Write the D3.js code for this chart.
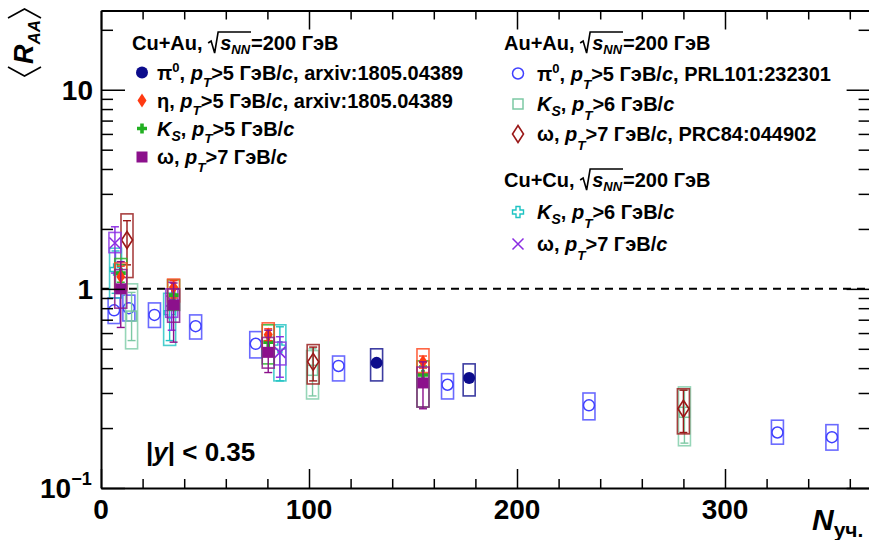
<!DOCTYPE html>
<html>
<head>
<meta charset="utf-8">
<script src="https://cdn.jsdelivr.net/npm/d3@7"></script>
<style>
  body { margin: 0; background: #fff; }
  text { font-family: "Liberation Sans", Arial, sans-serif; font-weight: bold; fill: #000; white-space: pre; }
</style>
</head>
<body>
<svg id="chart" width="869" height="540"></svg>
<script>
// ---------- data: <R_AA> vs number of participants ----------
// Au+Au, pi0 (PRL101:232301)
const auauPi0N     = [6.3, 13.4, 25.7, 45.5, 74.4, 114.2, 166.6, 234.6, 325.2, 351.4];
const auauPi0R     = [0.78, 0.80, 0.74, 0.65, 0.53, 0.41, 0.33, 0.26, 0.19, 0.18];
const auauPi0SysLo = [0.67, 0.69, 0.64, 0.56, 0.45, 0.345, 0.28, 0.22, 0.166, 0.155];
const auauPi0SysHi = [0.90, 0.93, 0.85, 0.74, 0.61, 0.46, 0.375, 0.30, 0.219, 0.208];

// Au+Au, K_S
const auauKsN      = [14.7, 101.7, 280.5];
const auauKsR      = [0.73, 0.39, 0.24];
const auauKsStatLo = [0.55, 0.29, 0.168];
const auauKsStatHi = [0.96, 0.50, 0.31];
const auauKsSysLo  = [0.50, 0.28, 0.163];
const auauKsSysHi  = [1.06, 0.49, 0.322];

// Au+Au, omega (PRC84:044902)
const auauOmN      = [12.5, 102, 280];
const auauOmR      = [1.76, 0.43, 0.25];
const auauOmStatLo = [1.32, 0.345, 0.19];
const auauOmStatHi = [2.2, 0.51, 0.31];
const auauOmSysLo  = [1.14, 0.333, 0.187];
const auauOmSysHi  = [2.38, 0.525, 0.315];

// Cu+Cu, K_S
const cucuKsN      = [7, 33, 86];
const cucuKsR      = [1.25, 0.76, 0.51];
const cucuKsStatLo = [0.95, 0.55, 0.345];
const cucuKsStatHi = [1.55, 0.95, 0.645];
const cucuKsSysLo  = [0.90, 0.52, 0.345];
const cucuKsSysHi  = [1.60, 0.95, 0.66];

// Cu+Cu, omega
const cucuOmN      = [6.7, 34, 86];
const cucuOmR      = [1.70, 0.87, 0.48];
const cucuOmStatLo = [1.2, 0.62, 0.36];
const cucuOmStatHi = [2.05, 1.08, 0.575];
const cucuOmSysLo  = [1.52, 0.72, 0.415];
const cucuOmSysHi  = [1.92, 1.0, 0.54];

// Cu+Au, pi0 (arxiv:1805.04389)
const cuauPi0N     = [132.5, 177];
const cuauPi0R     = [0.425, 0.357];
const cuauPi0SysLo = [0.345, 0.29];
const cuauPi0SysHi = [0.50, 0.42];

// Cu+Au, K_S / eta / omega share centrality classes
const cuauN        = [9.5, 34.9, 80.4, 154.8];
const cuauKsR      = [1.2, 0.93, 0.54, 0.37];
const cuauKsStatLo = [1.08, 0.85, 0.50, 0.33];
const cuauKsStatHi = [1.32, 1.02, 0.58, 0.41];
const cuauKsSysLo  = [1.0, 0.78, 0.42, 0.255];
const cuauKsSysHi  = [1.42, 1.11, 0.66, 0.435];

const cuauEtaR      = [1.15, 1.02, 0.59, 0.43];
const cuauEtaStatLo = [1.0, 0.9, 0.55, 0.40];
const cuauEtaStatHi = [1.3, 1.1, 0.63, 0.46];
const cuauEtaSysLo  = [0.98, 0.86, 0.50, 0.38];
const cuauEtaSysHi  = [1.35, 1.12, 0.675, 0.50];

const cuauOmR      = [1.0, 0.83, 0.48, 0.337];
const cuauOmStatLo = [0.64, 0.54, 0.38, 0.25];
const cuauOmStatHi = [1.37, 1.07, 0.62, 0.43];
const cuauOmSysLo  = [0.80, 0.68, 0.40, 0.255];
const cuauOmSysHi  = [1.25, 1.0, 0.57, 0.405];

// axis ticks and labels
const xMajorTicks = [0, 100, 200, 300];
const xMajorLabels = ["0", "100", "200", "300"];
const xMinorTicks = [20, 40, 60, 80, 120, 140, 160, 180, 220, 240, 260, 280, 320, 340, 360];
const yMajorTicks = [0.1, 1, 10];
const yMinorTicks = [0.2, 0.3, 0.4, 0.5, 0.6, 0.7, 0.8, 0.9, 2, 3, 4, 5, 6, 7, 8, 9, 20];

// ---------- layout ----------
const svg = d3.select("#chart");
const x = d3.scaleLinear().domain([0, 370]).range([101, 870.6]);
const y = d3.scaleLog().domain([0.1, 25]).range([488, 10.5]);

const zip = (N, R, sLo, sHi, eLo, eHi) => N.map((n, i) => ({
  n, r: R[i],
  sysLo: sLo ? sLo[i] : null, sysHi: sHi ? sHi[i] : null,
  statLo: eLo ? eLo[i] : null, statHi: eHi ? eHi[i] : null
}));

const series = [
  { data: zip(auauPi0N, auauPi0R, auauPi0SysLo, auauPi0SysHi), color: "#4040ff", box: "#5050ff", marker: "circleOpen" },
  { data: zip(auauKsN, auauKsR, auauKsSysLo, auauKsSysHi, auauKsStatLo, auauKsStatHi), color: "#7cc9a4", box: "#84cfab", marker: "squareOpen" },
  { data: zip(auauOmN, auauOmR, auauOmSysLo, auauOmSysHi, auauOmStatLo, auauOmStatHi), color: "#9a1818", box: "#9a2020", marker: "diamondOpen" },
  { data: zip(cucuKsN, cucuKsR, cucuKsSysLo, cucuKsSysHi, cucuKsStatLo, cucuKsStatHi), color: "#1fc3c3", box: "#2cc6c6", marker: "crossOpen" },
  { data: zip(cucuOmN, cucuOmR, cucuOmSysLo, cucuOmSysHi, cucuOmStatLo, cucuOmStatHi), color: "#8a2be2", box: "#8f38e6", marker: "xMark" },
  { data: zip(cuauPi0N, cuauPi0R, cuauPi0SysLo, cuauPi0SysHi), color: "#0c0c8c", box: "#1a1a90", marker: "circleFilled" },
  { data: zip(cuauN, cuauKsR, cuauKsSysLo, cuauKsSysHi, cuauKsStatLo, cuauKsStatHi), color: "#22b022", box: "#2bb52b", marker: "crossFilled" },
  { data: zip(cuauN, cuauEtaR, cuauEtaSysLo, cuauEtaSysHi, cuauEtaStatLo, cuauEtaStatHi), color: "#ff3a12", box: "#ff4a22", marker: "diamondFilled" },
  { data: zip(cuauN, cuauOmR, cuauOmSysLo, cuauOmSysHi, cuauOmStatLo, cuauOmStatHi), color: "#8c108c", box: "#8c1a8c", marker: "squareFilled" }
];

// marker shapes
function plusPath(h, t) {
  return `M${-t},${-h}H${t}V${-t}H${h}V${t}H${t}V${h}H${-t}V${t}H${-h}V${-t}H${-t}Z`;
}
function drawMarker(g, kind, cx, cy, color) {
  const m = g.append("g").attr("transform", `translate(${cx},${cy})`);
  switch (kind) {
    case "circleOpen":
      m.append("circle").attr("r", 5.5).attr("fill", "none").attr("stroke", color).attr("stroke-width", 1.5); break;
    case "circleFilled":
      m.append("circle").attr("r", 6).attr("fill", color); break;
    case "squareOpen":
      m.append("rect").attr("x", -5).attr("y", -5).attr("width", 10).attr("height", 10)
        .attr("fill", "none").attr("stroke", color).attr("stroke-width", 1.5); break;
    case "squareFilled":
      m.append("rect").attr("x", -5.5).attr("y", -5.5).attr("width", 11).attr("height", 11).attr("fill", color); break;
    case "diamondOpen":
      m.append("path").attr("d", "M0,-8.5L5.5,0L0,8.5L-5.5,0Z").attr("fill", "none")
        .attr("stroke", color).attr("stroke-width", 1.6); break;
    case "diamondFilled":
      m.append("path").attr("d", "M0,-7L4.5,0L0,7L-4.5,0Z").attr("fill", color); break;
    case "crossFilled":
      m.append("path").attr("d", plusPath(5, 1.8)).attr("fill", color); break;
    case "crossOpen":
      m.append("path").attr("d", plusPath(5.5, 2)).attr("fill", "none").attr("stroke", color).attr("stroke-width", 1.4); break;
    case "xMark":
      m.append("path").attr("d", "M-5.5,-5.5L5.5,5.5M-5.5,5.5L5.5,-5.5").attr("stroke", color).attr("stroke-width", 1.5); break;
  }
}

// ---------- dashed unity line ----------
svg.append("line")
  .attr("x1", x(0)).attr("x2", x(370)).attr("y1", y(1)).attr("y2", y(1))
  .attr("stroke", "#000").attr("stroke-width", 2).attr("stroke-dasharray", "8,6");

// ---------- data marks ----------
const plot = svg.append("g");
series.forEach(s => {
  const g = plot.append("g");
  s.data.forEach(d => {
    const cx = x(d.n);
    if (d.sysLo !== null) {
      g.append("rect")
        .attr("x", cx - 6).attr("width", 12)
        .attr("y", y(d.sysHi)).attr("height", y(d.sysLo) - y(d.sysHi))
        .attr("fill", "none").attr("stroke", s.box).attr("stroke-width", 1.6).attr("stroke-opacity", 0.85);
    }
    if (d.statLo !== null) {
      const e = g.append("g").attr("stroke", s.color).attr("stroke-width", 1.4);
      e.append("line").attr("x1", cx).attr("x2", cx).attr("y1", y(d.statHi)).attr("y2", y(d.statLo));
      e.append("line").attr("x1", cx - 4).attr("x2", cx + 4).attr("y1", y(d.statHi)).attr("y2", y(d.statHi));
      e.append("line").attr("x1", cx - 4).attr("x2", cx + 4).attr("y1", y(d.statLo)).attr("y2", y(d.statLo));
    }
    drawMarker(g, s.marker, cx, y(d.r), s.color);
  });
});

// ---------- axes / frame ----------
function styleAxis(g, keepDomain) {
  g.selectAll(".tick line").attr("stroke", "#000").attr("stroke-width", 1.5);
  g.selectAll(".tick text").remove();
  if (keepDomain) g.select(".domain").attr("stroke", "#000").attr("stroke-width", 2);
  else g.select(".domain").remove();
}
const axes = svg.append("g");
axes.append("g").attr("transform", "translate(0,488)")
  .call(d3.axisBottom(x).tickValues(xMajorTicks).tickSize(-19).tickSizeOuter(0)).call(g => styleAxis(g, true));
axes.append("g").attr("transform", "translate(0,488)")
  .call(d3.axisBottom(x).tickValues(xMinorTicks).tickSize(-9).tickSizeOuter(0)).call(g => styleAxis(g, false));
axes.append("g").attr("transform", "translate(0,10.5)")
  .call(d3.axisTop(x).tickValues(xMajorTicks).tickSize(-19).tickSizeOuter(0)).call(g => styleAxis(g, true));
axes.append("g").attr("transform", "translate(0,10.5)")
  .call(d3.axisTop(x).tickValues(xMinorTicks).tickSize(-9).tickSizeOuter(0)).call(g => styleAxis(g, false));
axes.append("g").attr("transform", "translate(101,0)")
  .call(d3.axisLeft(y).tickValues(yMajorTicks).tickSize(-24).tickSizeOuter(0)).call(g => styleAxis(g, true));
axes.append("g").attr("transform", "translate(101,0)")
  .call(d3.axisLeft(y).tickValues(yMinorTicks).tickSize(-12).tickSizeOuter(0)).call(g => styleAxis(g, false));
axes.append("g").attr("transform", `translate(${x(370)},0)`)
  .call(d3.axisRight(y).tickValues(yMajorTicks).tickSize(-24).tickSizeOuter(0)).call(g => styleAxis(g, true));
axes.append("g").attr("transform", `translate(${x(370)},0)`)
  .call(d3.axisRight(y).tickValues(yMinorTicks).tickSize(-12).tickSizeOuter(0)).call(g => styleAxis(g, false));

// ---------- rich text helper ----------
// One <text> per label; runs are tspans placed at measured x positions.
// parts: plain/italic runs, sub/superscripts and a radical sign.
function rich(g, x0, base, parts, size) {
  const t = g.append("text").attr("x", x0).attr("y", base).attr("font-size", size);
  let cx = x0, sqrtStart = null;
  const run = (txt, xx, yy, fs, it) => {
    const s = t.append("tspan").attr("x", xx).attr("y", yy).attr("font-size", fs)
      .style("font-style", it ? "italic" : "normal").text(txt);
    return s.node().getComputedTextLength();
  };
  parts.forEach(p => {
    if (p.sqrt === "open") { sqrtStart = cx; cx += 12; return; }
    if (p.sqrt === "close") {
      const s = sqrtStart;
      g.append("path")
        .attr("d", `M${s},${base - 7}L${s + 3},${base - 9}L${s + 6.5},${base + 3}L${s + 10},${base - 18}L${cx + 1},${base - 18}`)
        .attr("fill", "none").attr("stroke", "#000").attr("stroke-width", 1.6);
      cx += 1;
      return;
    }
    const fs = (p.sub || p.sup) ? p.fs : size;
    const dy = p.sub ? p.dy : p.sup ? -p.dy : 0;
    cx += run(p.t, cx, base + dy, fs, p.it);
  });
  return t;
}
const pT = (dy) => [{ t: "p", it: 1 }, { t: "T", it: 1, sub: 1, fs: 13.5, dy }];
const sqrtS = [{ sqrt: "open" }, { t: "s", it: 1 }, { t: "NN", it: 1, sub: 1, fs: 13, dy: 4 }, { sqrt: "close" }];
const kS = [{ t: "K", it: 1 }, { t: "S", it: 1, sub: 1, fs: 14, dy: 5 }];
const pi0 = [{ t: "\u03c0" }, { t: "0", sup: 1, fs: 13, dy: 8 }];
const cUnit = [{ t: "c", it: 1 }];

// tick labels
xMajorTicks.forEach((v, i) => {
  svg.append("text").attr("x", x(v)).attr("y", 519).attr("text-anchor", "middle")
    .attr("font-size", 28).text(xMajorLabels[i]);
});
svg.append("text").attr("x", 93).attr("y", y(10) + 10).attr("text-anchor", "end").attr("font-size", 28).text("10");
svg.append("text").attr("x", 93).attr("y", y(1) + 10).attr("text-anchor", "end").attr("font-size", 28).text("1");
rich(svg, 40, y(0.1) + 10, [{ t: "10" }, { t: "\u22121", sup: 1, fs: 18, dy: 13 }], 28);

// ---------- legends ----------
const leg = svg.append("g");
const FS = 20;
// Cu+Au block (tighter row spacing, so the pT subscript sits a little higher)
rich(leg, 132, 50, [{ t: "Cu+Au, " }, ...sqrtS, { t: "=200 ГэВ" }], FS);
const leftRows = [
  { b: 79.5, m: "circleFilled", c: "#0c0c8c", parts: [...pi0, { t: ", " }, ...pT(7), { t: ">5 ГэВ/" }, ...cUnit, { t: ", arxiv:1805.04389" }] },
  { b: 107.5, m: "diamondFilled", c: "#ff3a12", parts: [{ t: "\u03b7, " }, ...pT(7), { t: ">5 ГэВ/" }, ...cUnit, { t: ", arxiv:1805.04389" }] },
  { b: 135.5, m: "crossFilled", c: "#22b022", parts: [...kS, { t: ", " }, ...pT(7), { t: ">5 ГэВ/" }, ...cUnit] },
  { b: 164, m: "squareFilled", c: "#8c108c", parts: [{ t: "\u03c9, " }, ...pT(8), { t: ">7 ГэВ/" }, ...cUnit] }
];
leftRows.forEach(r => {
  drawMarker(leg, r.m, 142, r.b - 7, r.c);
  rich(leg, 157, r.b, r.parts, FS);
});
// Au+Au and Cu+Cu block
rich(leg, 504, 50, [{ t: "Au+Au, " }, ...sqrtS, { t: "=200 ГэВ" }], FS);
rich(leg, 504, 187, [{ t: "Cu+Cu, " }, ...sqrtS, { t: "=200 ГэВ" }], FS);
const rightRows = [
  { b: 80.5, m: "circleOpen", c: "#4040ff", parts: [...pi0, { t: ", " }, ...pT(8.5), { t: ">5 ГэВ/" }, ...cUnit, { t: ", PRL101:232301" }] },
  { b: 111, m: "squareOpen", c: "#7cc9a4", parts: [...kS, { t: ", " }, ...pT(8.5), { t: ">6 ГэВ/" }, ...cUnit] },
  { b: 141, m: "diamondOpen", c: "#9a1818", parts: [{ t: "\u03c9, " }, ...pT(8.5), { t: ">7 ГэВ/" }, ...cUnit, { t: ", PRC84:044902" }] },
  { b: 219, m: "crossOpen", c: "#1fc3c3", parts: [...kS, { t: ", " }, ...pT(8.5), { t: ">6 ГэВ/" }, ...cUnit] },
  { b: 251, m: "xMark", c: "#8a2be2", parts: [{ t: "\u03c9, " }, ...pT(8.5), { t: ">7 ГэВ/" }, ...cUnit] }
];
rightRows.forEach(r => {
  drawMarker(leg, r.m, 518, r.b - 7, r.c);
  rich(leg, 537, r.b, r.parts, FS);
});

// rapidity window
rich(svg, 146, 461, [{ t: "|" }, { t: "y", it: 1 }, { t: "| < 0.35" }], 26);

// ---------- axis titles ----------
rich(svg, 812, 530, [{ t: "N", it: 1 }, { t: "уч.", sub: 1, fs: 21, dy: 7 }], 30);

// <R_AA>, rotated
const yt = svg.append("g").attr("transform", "translate(33,78) rotate(-90)");
yt.append("path").attr("d", "M11,-25L2,-8.5L11,8").attr("fill", "none").attr("stroke", "#000").attr("stroke-width", 1.6);
const rT = yt.append("text").attr("x", 14).attr("y", 0).attr("font-size", 27).style("font-style", "italic");
const rW = rT.append("tspan").text("R").node().getComputedTextLength();
const aW = rT.append("tspan").attr("x", 14 + rW).attr("y", 7).attr("font-size", 17).text("AA").node().getComputedTextLength();
const aEnd = 14 + rW + aW + 2;
yt.append("path").attr("d", `M${aEnd},-25L${aEnd + 9},-8.5L${aEnd},8`).attr("fill", "none").attr("stroke", "#000").attr("stroke-width", 1.6);
</script>
</body>
</html>
